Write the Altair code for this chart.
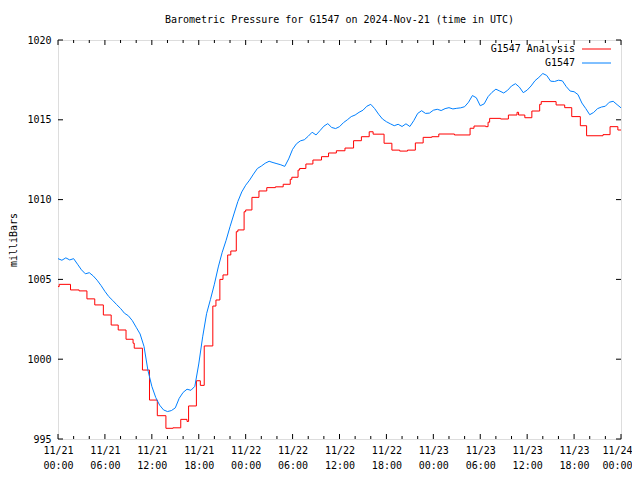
import altair as alt
import pandas as pd

# G1547 observations, every half hour from 11/21 00:00 UTC (hours 0..72)
blue_pressure = [
    1006.30, 1006.20, 1006.35, 1006.22, 1006.30, 1005.95, 1005.60, 1005.35,
    1005.42, 1005.22, 1004.95, 1004.62, 1004.25, 1003.92, 1003.68, 1003.42,
    1003.18, 1002.88, 1002.72, 1002.42, 1002.00, 1001.58, 1000.80, 999.30,
    998.30, 997.60, 997.12, 996.82, 996.72, 996.78, 996.95, 997.55,
    997.92, 998.12, 998.05, 998.30, 999.70, 1001.40, 1002.85, 1003.75,
    1004.70, 1005.78, 1006.70, 1007.45, 1008.30, 1009.10, 1009.88, 1010.48,
    1010.90, 1011.22, 1011.60, 1011.95, 1012.10, 1012.28, 1012.40, 1012.32,
    1012.25, 1012.18, 1012.08, 1012.55, 1013.15, 1013.50, 1013.68, 1013.75,
    1013.97, 1014.22, 1014.05, 1014.32, 1014.60, 1014.76, 1014.52, 1014.45,
    1014.57, 1014.82, 1015.00, 1015.20, 1015.30, 1015.47, 1015.60, 1015.85,
    1015.97, 1015.70, 1015.35, 1015.05, 1014.88, 1014.75, 1014.63, 1014.72,
    1014.58, 1014.75, 1014.58, 1014.95, 1015.40, 1015.57, 1015.40, 1015.42,
    1015.60, 1015.66, 1015.58, 1015.70, 1015.76, 1015.68, 1015.72, 1015.75,
    1015.82, 1016.10, 1016.52, 1016.38, 1015.88, 1016.00, 1016.45, 1016.72,
    1016.92, 1016.80, 1016.68, 1016.85, 1017.12, 1017.26, 1017.05, 1016.70,
    1016.86, 1017.12, 1017.45, 1017.66, 1017.90, 1017.78, 1017.42, 1017.40,
    1017.48, 1017.44, 1017.08, 1016.80, 1016.76, 1016.58, 1016.05, 1015.70,
    1015.32, 1015.46, 1015.70, 1015.80, 1015.85, 1016.10, 1016.16, 1015.95,
    1015.75,
]
blue_hours = [i * 0.5 for i in range(len(blue_pressure))]

# G1547 Analysis: step changes (hour, pressure)
red_hours = [
    0.0, 0.15, 1.6, 2.7, 3.7, 4.7, 5.8, 6.8, 7.7, 8.7, 9.6, 9.75, 10.8, 11.7,
    12.7, 13.8, 14.7, 15.7, 16.5, 16.7, 17.7, 18.2, 18.7, 19.8, 20.2, 20.7,
    21.1, 21.7, 22.1, 22.8, 23.0, 23.8, 24.0, 24.8, 25.7, 26.7, 27.8, 28.8,
    29.7, 29.9, 30.7, 30.9, 31.7, 32.6, 33.7, 34.6, 35.6, 36.7, 37.8, 38.8,
    39.8, 40.3, 41.7, 42.7, 43.7, 44.7, 45.7, 46.7, 47.8, 48.7, 50.7, 52.7,
    53.2, 54.7, 55.0, 55.2, 56.6, 57.6, 58.7, 58.9, 59.7, 60.6, 61.6, 61.8,
    63.7, 64.8, 65.7, 66.8, 67.6, 69.7, 70.6, 71.6, 72.0,
]
red_pressure = [
    1004.55, 1004.69, 1004.34, 1004.28, 1003.78, 1003.40, 1002.77, 1002.14,
    1001.83, 1001.25, 1001.00, 1000.69, 999.32, 997.44, 996.46, 995.67,
    995.70, 996.23, 996.10, 997.07, 998.65, 998.36, 1000.83, 1003.33,
    1003.71, 1005.00, 1005.28, 1006.53, 1006.78, 1007.99, 1008.10, 1009.24,
    1009.35, 1010.14, 1010.54, 1010.75, 1010.80, 1010.96, 1011.27, 1011.40,
    1011.85, 1011.95, 1012.23, 1012.48, 1012.69, 1012.92, 1013.06, 1013.23,
    1013.69, 1013.94, 1014.25, 1014.10, 1013.53, 1013.10, 1013.04, 1013.10,
    1013.55, 1013.90, 1013.94, 1014.11, 1014.05, 1014.47, 1014.61, 1014.57,
    1014.85, 1015.09, 1015.05, 1015.30, 1015.47, 1015.30, 1015.13, 1015.55,
    1015.97, 1016.14, 1015.93, 1015.76, 1015.20, 1014.63, 1014.00, 1014.07,
    1014.57, 1014.36, 1014.36,
]

tick_dates = ["11/21", "11/21", "11/21", "11/21", "11/22", "11/22", "11/22",
              "11/22", "11/23", "11/23", "11/23", "11/23", "11/24"]
tick_times = ["00:00", "06:00", "12:00", "18:00", "00:00", "06:00", "12:00",
              "18:00", "00:00", "06:00", "12:00", "18:00", "00:00"]
major_hours = [0, 6, 12, 18, 24, 30, 36, 42, 48, 54, 60, 66, 72]
minor_hours = [2, 4, 8, 10, 14, 16, 20, 22, 26, 28, 32, 34, 38, 40, 44, 46,
               50, 52, 56, 58, 62, 64, 68, 70]
y_ticks = [995, 1000, 1005, 1010, 1015, 1020]

legend_labels = ["G1547 Analysis", "G1547"]
legend_colors = ["#ff0000", "#0080ff"]

W, H = 563, 399
FONT = "DejaVu Sans Mono"

df_blue = pd.DataFrame({"h": blue_hours, "p": blue_pressure})
df_red = pd.DataFrame({"h": red_hours, "p": red_pressure})
df_major = pd.DataFrame({"h": major_hours})
df_minor = pd.DataFrame({"h": minor_hours})
df_y = pd.DataFrame({"p": y_ticks})

xs = alt.Scale(domain=[0, 72], nice=False, zero=False)
ys = alt.Scale(domain=[995, 1020], nice=False, zero=False)

label_expr = "[" + ",".join(
    f"['{d}','{t}']" for d, t in zip(tick_dates, tick_times)
) + "][round(datum.value/6)]"

xaxis = alt.Axis(values=major_hours, labelExpr=label_expr, title=None,
                 ticks=False, tickSize=0, domain=False, grid=False,
                 labelFont=FONT, labelFontSize=10, labelColor="black",
                 labelPadding=6, labelBaseline="top", labelLineHeight=15,
                 labelFlush=False, labelOverlap=False, labelAlign="center",
                 labelOffset={"condition": {"test": "datum.value >= 72", "value": -4},
                              "value": 0})
yaxis = alt.Axis(values=y_ticks, format="d", title="milliBars",
                 ticks=False, tickSize=0, domain=False, grid=False,
                 labelFont=FONT, labelFontSize=10, labelColor="black",
                 labelPadding=7, labelFlush=False, labelOverlap=False,
                 titleFont=FONT, titleFontSize=10, titleFontWeight="normal",
                 titleColor="black", titleAngle=270, titleX=-45, titleY=H / 2,
                 titleAlign="center", titleBaseline="middle")

red = alt.Chart(df_red).mark_line(
    color=legend_colors[0], strokeWidth=1, interpolate="step-after"
).encode(x=alt.X("h:Q", scale=xs, axis=xaxis),
         y=alt.Y("p:Q", scale=ys, axis=yaxis))

blue = alt.Chart(df_blue).mark_line(
    color=legend_colors[1], strokeWidth=1
).encode(x=alt.X("h:Q", scale=xs), y=alt.Y("p:Q", scale=ys))

tick_layers = []
for df, ln in [(df_major, 5), (df_minor, 3)]:
    tick_layers.append(alt.Chart(df).mark_rule(color="black", strokeWidth=1).encode(
        x=alt.X("h:Q", scale=xs), y=alt.value(H), y2=alt.value(H - ln)))
    tick_layers.append(alt.Chart(df).mark_rule(color="black", strokeWidth=1).encode(
        x=alt.X("h:Q", scale=xs), y=alt.value(0), y2=alt.value(ln)))
tick_layers.append(alt.Chart(df_y).mark_rule(color="black", strokeWidth=1).encode(
    y=alt.Y("p:Q", scale=ys), x=alt.value(0), x2=alt.value(5)))
tick_layers.append(alt.Chart(df_y).mark_rule(color="black", strokeWidth=1).encode(
    y=alt.Y("p:Q", scale=ys), x=alt.value(W), x2=alt.value(W - 5)))

legend_layers = []
for i, (lab, col) in enumerate(zip(legend_labels, legend_colors)):
    yy = 9 + 14 * i
    legend_layers.append(alt.Chart(pd.DataFrame({"t": [lab]})).mark_text(
        font=FONT, fontSize=10, align="right", baseline="middle", color="black"
    ).encode(text="t:N", x=alt.value(517), y=alt.value(yy)))
    legend_layers.append(alt.Chart(pd.DataFrame({"t": [lab]})).mark_rule(
        color=col, strokeWidth=1
    ).encode(x=alt.value(524), x2=alt.value(553), y=alt.value(yy)))

chart = alt.layer(red, blue, *tick_layers, *legend_layers).properties(
    width=W, height=H,
    title=alt.TitleParams("Barometric Pressure for G1547 on 2024-Nov-21 (time in UTC)",
                          font=FONT, fontSize=10, fontWeight="normal",
                          color="black", anchor="middle", offset=10),
    autosize=alt.AutoSizeParams(type="none"),
    padding={"left": 50, "top": 32, "right": 11, "bottom": 33},
).configure_view(stroke="black", strokeWidth=1).configure(background="white")

chart.save("out.html", embed_options={"renderer": "svg", "actions": False})
